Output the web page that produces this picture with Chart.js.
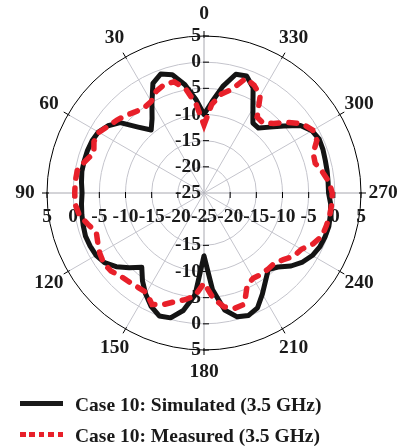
<!DOCTYPE html>
<html>
<head>
<meta charset="utf-8">
<script src="https://cdn.jsdelivr.net/npm/chart.js@4/dist/chart.umd.min.js"></script>
<style>
  html, body { margin: 0; padding: 0; background: #fff; }
  #wrap { position: relative; width: 405px; height: 446px; overflow: hidden; }
  #polar { position: absolute; left: 0; top: 0; }
  .sample { position: absolute; left: 20px; width: 43px; height: 5px; }
  .txt { position: absolute; left: 75px; font: bold 19.5px "Liberation Serif", "Times New Roman", serif; line-height: 22px; color: #1a1a1a; white-space: nowrap; }
</style>
</head>
<body>
<div id="wrap">
  <canvas id="polar" width="405" height="395"></canvas>
  <div class="sample" style="top:401px;background:#1a1a1a"></div>
  <div class="txt" style="top:394px">Case 10: Simulated (3.5 GHz)</div>
  <div class="sample" style="top:432px;background:repeating-linear-gradient(to right,#e8202a 0 5.5px,transparent 5.5px 9.4px)"></div>
  <div class="txt" style="top:425px">Case 10: Measured (3.5 GHz)</div>
</div>
<script>
// angles in degrees, counter-clockwise from the top, every 5 degrees
const angles = Array.from({ length: 72 }, (_, i) => i * 5);

// gain in dB, one value per angle above
const simulated = [
  -10, -7, -4, -1.6, -0.8, -1.9, -5.1, -7.7, -9.3, -7.2, -4.1, -2.6,
  -1.7, -1.4, -1.3, -1.3, -1.3, -1.5, -1.7, -1.5, -1.3, -1.1, -0.9, -1.0,
  -1.2, -1.8, -3.1, -4.8, -6.5, -4.5, -2.7, -1.1, 0, -0.3, -2.2, -5.5,
  -13, -6.5, -2.3, -0.5, -0.1, -0.8, -2.7, -4.5, -5.9, -5, -3.3, -2,
  -1.1, -0.6, -0.4, -0.3, -0.5, -0.7, -1.2, -1.2, -1.1, -1.0, -0.8, -0.7,
  -1.2, -2.5, -5.1, -7.2, -8.8, -8.7, -6.3, -2.8, -1.2, -1.5, -4.3, -7.5
];
const measured = [
  -12, -8, -4.8, -3, -2.9, -3.5, -4.8, -5.1, -4.7, -4, -3.3, -2.7,
  -1.8, -1.8, -2.6, -1.5, -0.4, -0.3, -0.3, -0.3, -0.8, -2, -3.1, -2.6,
  -2, -1.6, -1.8, -2.5, -2.8, -3, -3, -1.5, -2.3, -3.5, -4.3, -5.3,
  -7.8, -4.8, -2.9, -2.2, -2.4, -5.5, -6.2, -6, -6, -6, -5.2, -4,
  -3.5, -2, -1, -0.8, -0.6, -0.5, -0.5, -1, -2, -3, -2.8, -1.2,
  -1, -2, -4, -6.2, -7.5, -7.3, -3.5, -2.3, -1.7, -4.5, -5.8, -8
];

const ringTicks = [-25, -20, -15, -10, -5, 0, 5];
const angleTicks = [0, 30, 60, 90, 120, 150, 180, 210, 240, 270, 300, 330];

// Chart.js walks clockwise from the top, the plot counter-clockwise
const order = angles.map((_, i) => (72 - i) % 72);
const labels = order.map(k => angles[k]);
const idxOf = a => labels.indexOf(a);

const FONT = 'bold 19.5px "Liberation Serif", "Times New Roman", serif';

const polarExtras = {
  id: 'polarExtras',
  beforeDatasetsDraw(chart) {
    const r = chart.scales.r, ctx = chart.ctx;
    const cx = r.xCenter, cy = r.yCenter;
    const outer = r.getDistanceFromCenterForValue(5);
    ctx.save();
    ctx.strokeStyle = '#000';
    ctx.lineWidth = 1;
    ctx.beginPath();
    ringTicks.forEach(v => {
      const d = r.getDistanceFromCenterForValue(v);
      if (!d) return;
      ctx.moveTo(cx - 1, cy - d); ctx.lineTo(cx + 5, cy - d);
      ctx.moveTo(cx - 1, cy + d); ctx.lineTo(cx + 5, cy + d);
      ctx.moveTo(cx - d, cy - 1); ctx.lineTo(cx - d, cy + 5);
      ctx.moveTo(cx + d, cy - 1); ctx.lineTo(cx + d, cy + 5);
    });
    angleTicks.forEach(a => {
      const p1 = r.getPointPosition(idxOf(a), outer - 2);
      const p2 = r.getPointPosition(idxOf(a), outer + 5);
      ctx.moveTo(p1.x, p1.y); ctx.lineTo(p2.x, p2.y);
    });
    ctx.stroke();

    ctx.font = FONT;
    ctx.fillStyle = '#1a1a1a';
    ctx.textBaseline = 'middle';
    ctx.textAlign = 'right';
    ringTicks.forEach(v => {
      const d = r.getDistanceFromCenterForValue(v);
      ctx.fillText(String(v), cx - 3, cy - d);
      if (d && v !== -20) ctx.fillText(String(v), cx - 3, cy + d);
    });
    ctx.textAlign = 'center';
    ringTicks.forEach(v => {
      const d = r.getDistanceFromCenterForValue(v);
      ctx.fillText(String(v), cx - d, cy + 24);
      if (d) ctx.fillText(String(v), cx + d, cy + 24);
    });
    angleTicks.forEach(a => {
      const p = r.getPointPosition(idxOf(a), outer + 22);
      ctx.fillText(String(a), p.x, p.y);
    });
    ctx.restore();
  }
};

new Chart(document.getElementById('polar'), {
  type: 'radar',
  data: {
    labels,
    datasets: [
      {
        label: 'Case 10: Simulated (3.5 GHz)',
        data: order.map(k => simulated[k]),
        borderColor: '#141414',
        borderWidth: 5,
        borderJoinStyle: 'round',
        fill: false,
        pointRadius: 0,
        order: 1,
      },
      {
        label: 'Case 10: Measured (3.5 GHz)',
        data: order.map(k => measured[k]),
        borderColor: '#e8202a',
        borderWidth: 5.5,
        borderDash: [8, 10],
        borderCapStyle: 'round',
        fill: false,
        pointRadius: 0,
        order: 0,
      },
    ],
  },
  options: {
    responsive: false,
    animation: false,
    layout: { padding: { left: 47, right: 44, top: 36, bottom: 45 } },
    plugins: { legend: { display: false }, tooltip: { enabled: false } },
    elements: { line: { tension: 0 } },
    scales: {
      r: {
        min: -25,
        max: 5,
        ticks: { stepSize: 5, display: false },
        pointLabels: { display: false },
        grid: {
          circular: true,
          color: c => c.tick && c.tick.value === 5 ? '#000' : '#c4c4cc',
          lineWidth: 1,
        },
        angleLines: {
          color: c => {
            const a = labels[c.index];
            if (a % 90 === 0) return '#a8a8b0';
            return a % 30 === 0 ? '#c4c4cc' : 'rgba(0,0,0,0)';
          },
          lineWidth: 1,
        },
      },
    },
  },
  plugins: [polarExtras],
});
</script>
</body>
</html>
